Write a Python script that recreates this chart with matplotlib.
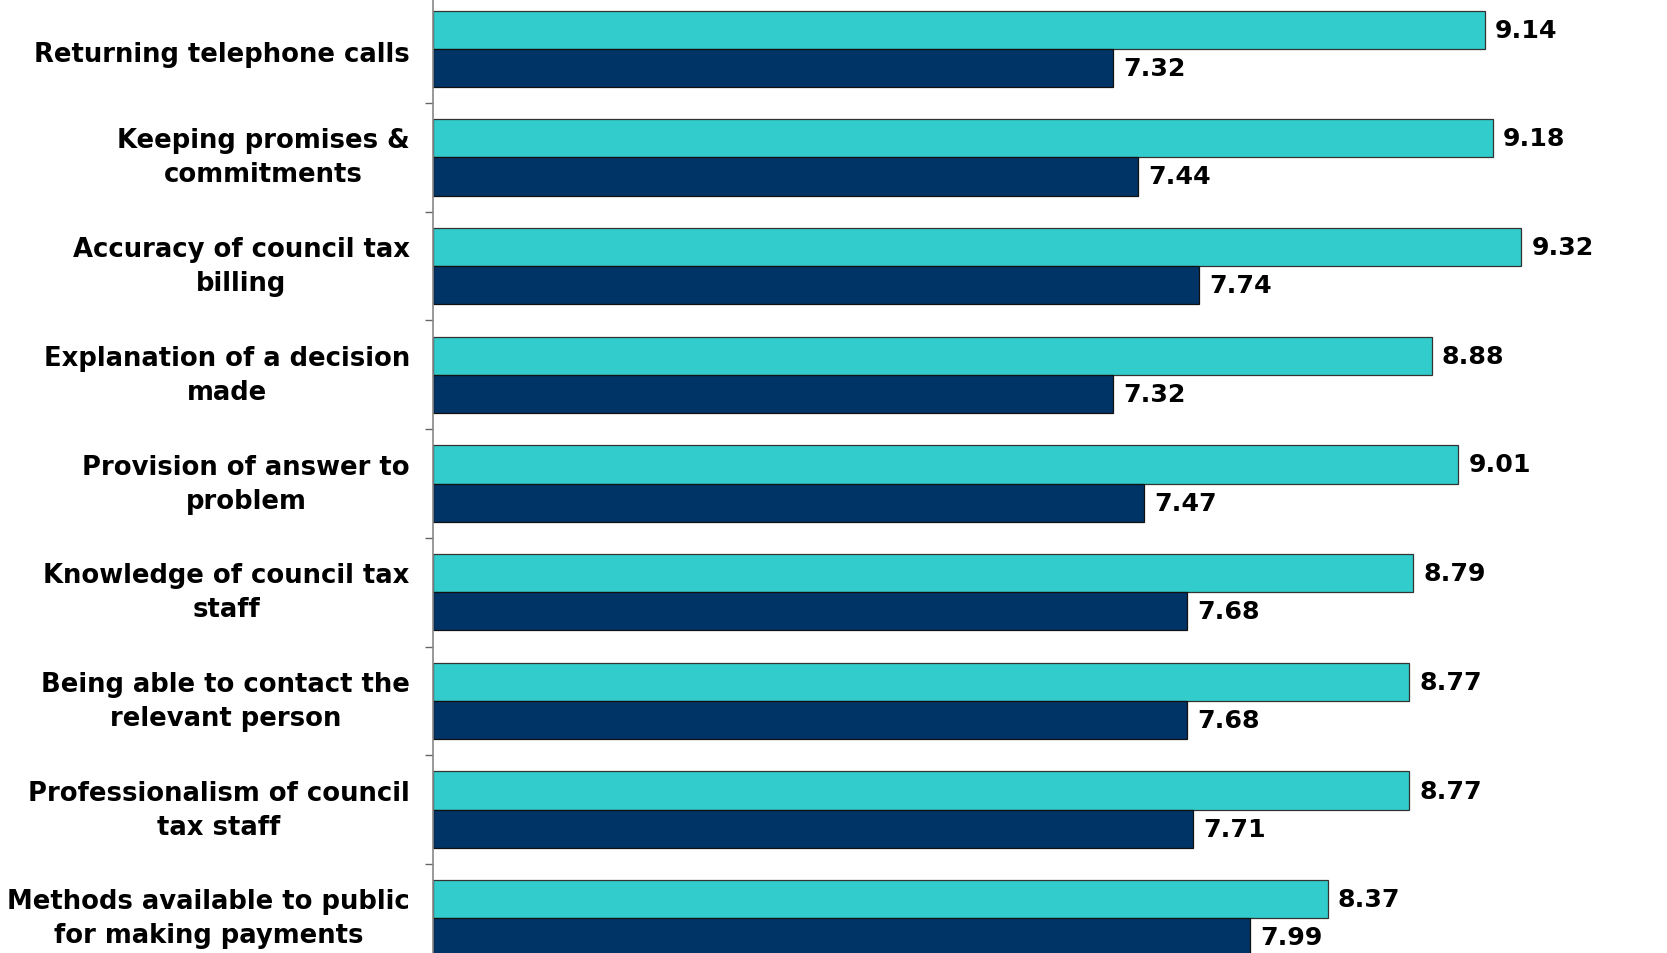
import numpy as np
import matplotlib.pyplot as plt

categories = [
    'Returning telephone calls',
    'Keeping promises &\ncommitments',
    'Accuracy of council tax\nbilling',
    'Explanation of a decision\nmade',
    'Provision of answer to\nproblem',
    'Knowledge of council tax\nstaff',
    'Being able to contact the\nrelevant person',
    'Professionalism of council\ntax staff',
    'Methods available to public\nfor making payments',
]
importance = [9.14, 9.18, 9.32, 8.88, 9.01, 8.79, 8.77, 8.77, 8.37]
satisfaction = [7.32, 7.44, 7.74, 7.32, 7.47, 7.68, 7.68, 7.71, 7.99]

teal = '#33CCCC'
navy = '#003366'
base = 3.984
h = 0.351

fig = plt.figure(figsize=(16.67, 9.54), dpi=100)
ax = fig.add_axes([433 / 1667, 0, 1 - 433 / 1667, 1])

y = np.arange(len(categories))
imp = np.array(importance) - base
sat = np.array(satisfaction) - base
ax.barh(y - h / 2, imp, height=h, left=base, color=teal,
        edgecolor='#333333', linewidth=0.9)
ax.barh(y + h / 2, sat, height=h, left=base, color=navy,
        edgecolor='#111111', linewidth=0.9)

for yi, v in zip(y, importance):
    ax.text(v + 0.05, yi - h / 2, '%.2f' % v, va='center', ha='left',
            fontsize=18.2, fontweight='bold', color='black')
for yi, v in zip(y, satisfaction):
    ax.text(v + 0.05, yi + h / 2, '%.2f' % v, va='center', ha='left',
            fontsize=18.2, fontweight='bold', color='black')

# tick marks between groups, names written next to the axis
ax.set_yticks(np.arange(-0.5, len(categories) + 0.5, 1.0))
ax.set_yticklabels([])
ax.tick_params(axis='y', length=6, color='#666666', width=1)
trans = ax.get_yaxis_transform()
for yi, name in zip(y, categories):
    dy = 0.05 if '\n' not in name else 0.0
    ax.text(-0.0188, yi + dy, name, transform=trans, ha='right', va='center',
            multialignment='center', fontsize=18.6, fontweight='bold',
            linespacing=1.4)

ax.set_xlim(base, base + 6.05)
ax.set_ylim(8.319, -0.457)

ax.set_xticks([])
for s in ['top', 'right', 'bottom']:
    ax.spines[s].set_visible(False)
ax.spines['left'].set_color('#888888')
ax.spines['left'].set_linewidth(1.2)

plt.savefig('out.png', dpi=100)
